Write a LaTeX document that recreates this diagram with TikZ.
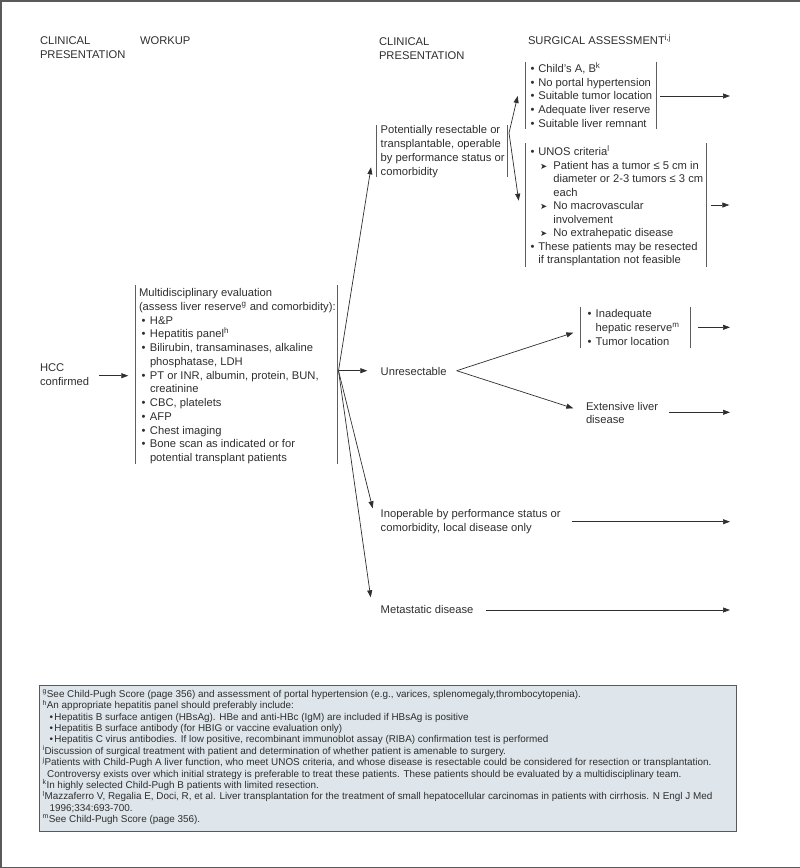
\documentclass[tikz,border=0pt]{standalone}
\usepackage{fontspec}
\setmainfont{Liberation Sans}
\newfontfamily\dejavu{DejaVu Sans}
\usetikzlibrary{arrows.meta}
\definecolor{ink}{HTML}{2E2E2E}
\definecolor{barc}{HTML}{5E5E5E}
\definecolor{fnfill}{HTML}{DFE6EB}
\definecolor{frame}{HTML}{5A5A5A}
\newcommand\fs{\rule{0pt}{9pt}}
\newcommand\ffs{\rule{0pt}{8pt}}
\newcommand\sps[1]{\textsuperscript{\fontsize{8}{8}\selectfont #1}}
\newcommand\fsp[1]{\textsuperscript{\fontsize{7}{7}\selectfont #1}}
\newcommand\bi{\makebox[7.6pt][l]{\textbullet}}
\newcommand\wb{\hspace*{2.7pt}\makebox[8.3pt][l]{\textbullet}}
\newcommand\wc{\hspace*{11pt}}
\newcommand\ar{\hspace*{9.3pt}\makebox[13.3pt][l]{\dejavu\fontsize{8.5}{8.5}\selectfont ➤}}
\newcommand\arc{\hspace*{22.6pt}}
\newcommand\fb{\hspace*{7pt}\makebox[5pt][l]{\textbullet}}
\begin{document}
\begin{tikzpicture}[x=1pt,y=-1pt,
  txt/.style={anchor=north west, inner sep=0pt, outer sep=0pt, align=left, text=ink},
  bar/.style={draw=barc, line width=0.8pt},
  arr/.style={draw=ink, line width=0.7pt, -{Triangle[length=7pt,width=5pt]}},
  ]
\useasboundingbox (0,0) rectangle (800,868);
% page frame
\draw[frame, line width=1.5pt] (800,0.75) -- (0.75,0.75) -- (0.75,867.25) -- (800,867.25);

% headers
\begin{scope}[every node/.append style={font=\fontsize{11.2}{14}\selectfont}]
\node[txt] (h1) at (40,35.3) {\fs CLINICAL\\PRESENTATION};
\node[txt] (h2) at (140,35) {\fs WORKUP};
\node[txt] (h3) at (379,36.3) {\fs CLINICAL\\PRESENTATION};
\node[txt] (h4) at (528,35) {\fs SURGICAL ASSESSMENT\sps{i,j}};
\end{scope}

% HCC
\node[txt, font=\fontsize{11.2}{13.3}\selectfont] (hcc) at (40,362.7) {\fs HCC\\confirmed};

% workup
\node[txt, font=\fontsize{11.2}{13.75}\selectfont] (wk) at (139,287.7) {\fs Multidisciplinary evaluation\\
(assess liver reserve\sps{g} and comorbidity):\\
\wb H\&P\\
\wb Hepatitis panel\sps{h}\\
\wb Bilirubin, transaminases, alkaline\\
\wc phosphatase, LDH\\
\wb PT or INR, albumin, protein, BUN,\\
\wc creatinine\\
\wb CBC, platelets\\
\wb AFP\\
\wb Chest imaging\\
\wb Bone scan as indicated or for\\
\wc potential transplant patients};
\draw[bar] (135,285) -- (135,464.3);
\draw[bar] (337.3,285) -- (337.3,464.3);

% clinical presentation column
\node[txt, font=\fontsize{11.2}{13.9}\selectfont] (pot) at (380.7,124.3) {\fs Potentially resectable or\\transplantable, operable\\by performance status or\\comorbidity};
\draw[bar] (376,125) -- (376,176.7);
\draw[bar] (507.3,125) -- (507.3,176.7);
\node[txt, font=\fontsize{11.2}{13.8}\selectfont] (unr) at (380.7,366) {\fs Unresectable};
\node[txt, font=\fontsize{11.2}{14.4}\selectfont] (inop) at (380.7,508.3) {\fs Inoperable by performance status or\\comorbidity, local disease only};
\node[txt, font=\fontsize{11.2}{13.8}\selectfont] (meta) at (380.7,604.3) {\fs Metastatic disease};

% surgical assessment boxes
\node[txt, font=\fontsize{11.2}{13.75}\selectfont] (b1) at (530.7,62.7) {\fs\bi Child's A, B\sps{k}\\
\bi No portal hypertension\\
\bi Suitable tumor location\\
\bi Adequate liver reserve\\
\bi Suitable liver remnant};
\draw[bar] (525.7,61.7) -- (525.7,129.3);
\draw[bar] (656,61.7) -- (656,129.3);

\node[txt, font=\fontsize{11.2}{13.5}\selectfont] (b2) at (530.7,146) {\fs\bi UNOS criteria\sps{l}\\
\ar Patient has a tumor ≤ 5 cm in\\
\arc diameter or 2-3 tumors ≤ 3 cm\\
\arc each\\
\ar No macrovascular\\
\arc involvement\\
\ar No extrahepatic disease\\
\bi These patients may be resected\\
\hspace*{7.6pt}if transplantation not feasible};
\draw[bar] (525.7,143.3) -- (525.7,266.7);
\draw[bar] (706.7,143.3) -- (706.7,266.7);

\node[txt, font=\fontsize{11.2}{14}\selectfont] (b3) at (587.7,308.7) {\fs\makebox[8pt][l]{\textbullet}Inadequate\\
\hspace*{8pt}hepatic reserve\sps{m}\\
\makebox[8pt][l]{\textbullet}Tumor location};
\draw[bar] (580.7,306.7) -- (580.7,347.7);
\draw[bar] (690.7,306.7) -- (690.7,347.7);

\node[txt, font=\fontsize{11.2}{13.3}\selectfont] (ext) at (586,401) {\fs Extensive liver\\disease};

% connector coordinates
\coordinate (hccE) at (99.3,375.7);
\coordinate (wkW) at (128.3,375.7);
\coordinate (fan) at (338.5,370.7);
\coordinate (unrW) at (367.3,370.7);
\coordinate (potW) at (371,167.3);
\coordinate (inopW) at (372.7,508.3);
\coordinate (metaW) at (370.7,597.3);
\coordinate (potE) at (509,133);
\coordinate (b1W) at (517.7,96);
\coordinate (b2W) at (518.7,200.7);
\coordinate (b1E) at (660,96);
\coordinate (b1T) at (730,96);
\coordinate (b2E) at (710.7,205);
\coordinate (b2T) at (729.3,205);
\coordinate (unrE) at (456.7,370.7);
\coordinate (b3W) at (573.3,332.7);
\coordinate (extW) at (573.3,408.3);
\coordinate (b3E) at (698.3,327.3);
\coordinate (b3T) at (730,327.3);
\coordinate (extE) at (669.3,412.3);
\coordinate (extT) at (730,412.3);
\coordinate (inopE) at (571.7,521.7);
\coordinate (inopT) at (730,521.7);
\coordinate (metaE) at (486,610);
\coordinate (metaT) at (730,610);

\draw[arr] (hccE) -- (wkW);
\draw[arr] (fan) -- (unrW);
\draw[arr] (fan) -- (potW);
\draw[arr] (fan) -- (inopW);
\draw[arr] (fan) -- (metaW);
\draw[arr] (potE) -- (b1W);
\draw[arr] (potE) -- (b2W);
\draw[arr] (b1E) -- (b1T);
\draw[arr] (b2E) -- (b2T);
\draw[arr] (unrE) -- (b3W);
\draw[arr] (unrE) -- (extW);
\draw[arr] (b3E) -- (b3T);
\draw[arr] (extE) -- (extT);
\draw[arr] (inopE) -- (inopT);
\draw[arr] (metaE) -- (metaT);

% footnotes
\draw[fill=fnfill, draw=frame, line width=0.9pt] (39,685) rectangle (736,831);
\node[txt, font=\fontsize{9.9}{11.36}\selectfont] (fn) at (42.5,689.5) {\ffs\fsp{g}See Child-Pugh Score (page 356) and assessment of portal hypertension (e.g., varices, splenomegaly,thrombocytopenia).\\
\fsp{h}An appropriate hepatitis panel should preferably include:\\
\fb Hepatitis B surface antigen (HBsAg). HBe and anti-HBc (IgM) are included if HBsAg is positive\\
\fb Hepatitis B surface antibody (for HBIG or vaccine evaluation only)\\
\fb Hepatitis C virus antibodies. If low positive, recombinant immunoblot assay (RIBA) confirmation test is performed\\
\fsp{i}Discussion of surgical treatment with patient and determination of whether patient is amenable to surgery.\\
\fsp{j}Patients with Child-Pugh A liver function, who meet UNOS criteria, and whose disease is resectable could be considered for resection or transplantation.\\
\hspace*{4.7pt}Controversy exists over which initial strategy is preferable to treat these patients. These patients should be evaluated by a multidisciplinary team.\\
\fsp{k}In highly selected Child-Pugh B patients with limited resection.\\
\fsp{l}Mazzaferro V, Regalia E, Doci, R, et al. Liver transplantation for the treatment of small hepatocellular carcinomas in patients with cirrhosis. N Engl J Med\\
\hspace*{7pt}1996;334:693-700.\\
\fsp{m}See Child-Pugh Score (page 356).};
\end{tikzpicture}
\end{document}
